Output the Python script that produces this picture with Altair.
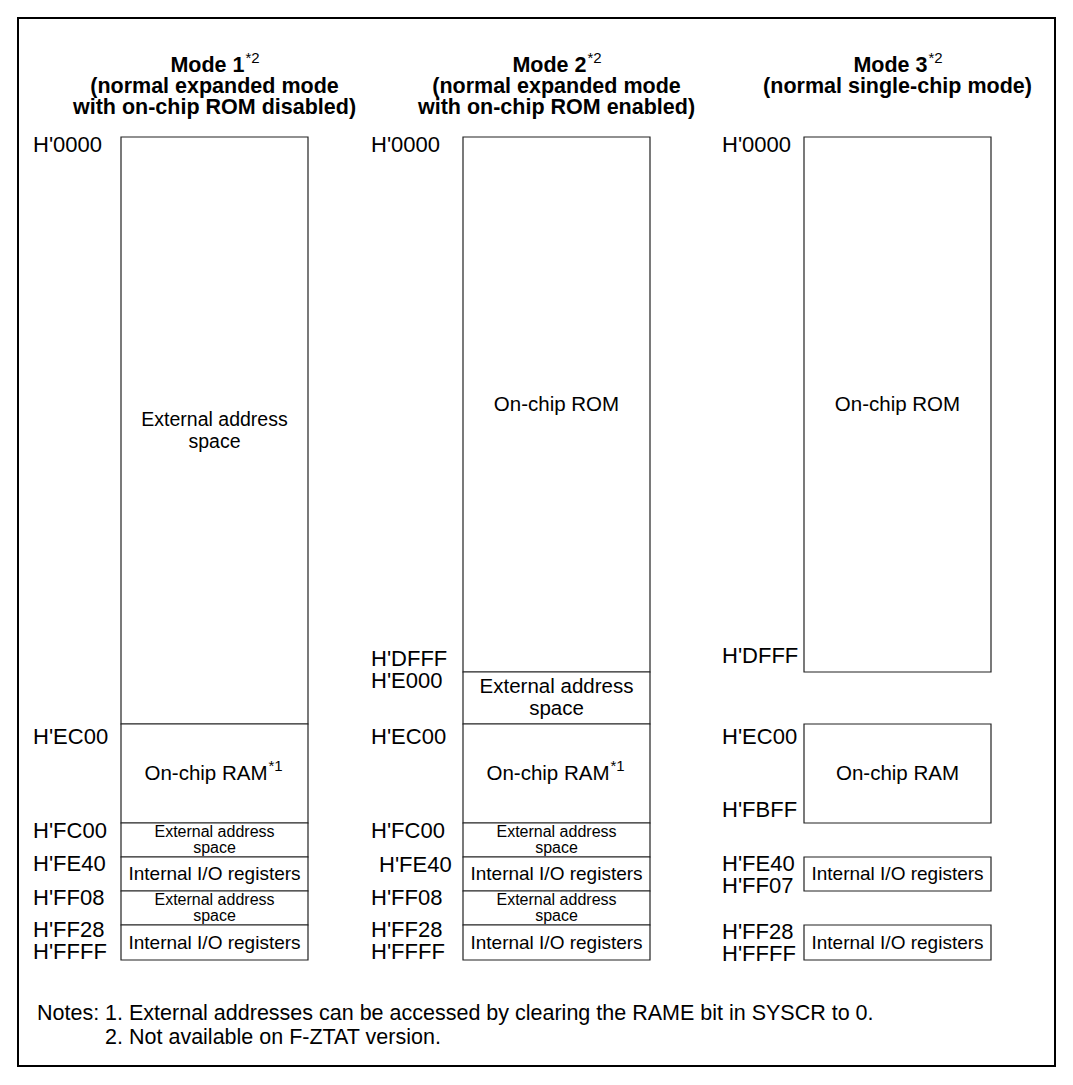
import altair as alt
import pandas as pd

# ---------------- data ----------------
modes = ["Mode 1", "Mode 2", "Mode 3"]
title_line2 = ["(normal expanded mode", "(normal expanded mode", "(normal single-chip mode)"]
title_line3 = ["with on-chip ROM disabled)", "with on-chip ROM enabled)", ""]
mode_note = ["*2", "*2", "*2"]

# memory-map boundaries and their vertical position in the drawing
bounds = ["H'0000", "H'E000", "H'EC00", "H'FC00", "H'FE40", "H'FF08", "H'FF28", "END"]
bound_y = [137, 672, 724, 823, 857, 891, 925, 960]

# regions of each memory map
seg_mode = [0, 0, 0, 0, 0, 0,
            1, 1, 1, 1, 1, 1, 1,
            2, 2, 2, 2]
seg_from = ["H'0000", "H'EC00", "H'FC00", "H'FE40", "H'FF08", "H'FF28",
            "H'0000", "H'E000", "H'EC00", "H'FC00", "H'FE40", "H'FF08", "H'FF28",
            "H'0000", "H'EC00", "H'FE40", "H'FF28"]
seg_to = ["H'EC00", "H'FC00", "H'FE40", "H'FF08", "H'FF28", "END",
          "H'E000", "H'EC00", "H'FC00", "H'FE40", "H'FF08", "H'FF28", "END",
          "H'E000", "H'FC00", "H'FF08", "END"]
seg_text = ["External address|space", "On-chip RAM", "External address|space",
            "Internal I/O registers", "External address|space", "Internal I/O registers",
            "On-chip ROM", "External address|space", "On-chip RAM", "External address|space",
            "Internal I/O registers", "External address|space", "Internal I/O registers",
            "On-chip ROM", "On-chip RAM", "Internal I/O registers", "Internal I/O registers"]
seg_style = ["mid", "big", "small", "io", "small", "io",
             "big", "big", "big", "small", "io", "small", "io",
             "big", "big", "io", "io"]
seg_note = ["", "*1", "", "", "", "",
            "", "", "*1", "", "", "", "",
            "", "", "", ""]

# address labels (text and vertical centre)
lab_mode = [0, 0, 0, 0, 0, 0, 0,
            1, 1, 1, 1, 1, 1, 1, 1, 1,
            2, 2, 2, 2, 2, 2, 2, 2]
lab_text = ["H'0000", "H'EC00", "H'FC00", "H'FE40", "H'FF08", "H'FF28", "H'FFFF",
            "H'0000", "H'DFFF", "H'E000", "H'EC00", "H'FC00", "H'FE40", "H'FF08", "H'FF28", "H'FFFF",
            "H'0000", "H'DFFF", "H'EC00", "H'FBFF", "H'FE40", "H'FF07", "H'FF28", "H'FFFF"]
lab_y = [145, 737, 831, 864, 898, 930, 952,
         145, 659, 681, 737, 831, 865, 898, 930, 952,
         145, 656, 737, 810, 864, 886, 932, 954]
lab_indent = [0, 0, 0, 0, 0, 0, 0,
              0, 0, 0, 0, 0, 8, 0, 0, 0,
              0, 0, 0, 0, 0, 0, 0, 0]

note_num = ["1.", "2."]
note_text = ["External addresses can be accessed by clearing the RAME bit in SYSCR to 0.",
             "Not available on F-ZTAT version."]

# ---------------- layout ----------------
box_left = [121, 463, 804]
box_w = 187
label_left = [33, 371, 722]
title_y = [66, 87, 108]
note_y = [1014, 1038]
note_x = [37, 105, 129]
frame = dict(x=18, x2=1055, y=18, y2=1066)

W, H = 1057, 1069
xs = alt.Scale(domain=[8, 8 + W], nice=False, zero=False)
ys = alt.Scale(domain=[8, 8 + H], nice=False, zero=False, reverse=True)
FONT = "Liberation Sans"


def X(f="x"):
    return alt.X(f"{f}:Q", scale=xs, axis=None)


def Y(f="y"):
    return alt.Y(f"{f}:Q", scale=ys, axis=None)


pos = dict(zip(bounds, bound_y))
seg = pd.DataFrame({
    "mode": seg_mode, "text": seg_text, "style": seg_style, "note": seg_note,
})
seg["x"] = [box_left[m] for m in seg_mode]
seg["x2"] = seg["x"] + box_w
seg["xc"] = seg["x"] + box_w / 2
seg["y"] = [pos[f] for f in seg_from]
seg["y2"] = [pos[t] for t in seg_to]
seg["yc"] = (seg["y"] + seg["y2"]) / 2

labs = pd.DataFrame({"text": lab_text, "y": lab_y})
labs["x"] = [label_left[m] + d for m, d in zip(lab_mode, lab_indent)]

titles = pd.DataFrame({
    "xc": [box_left[i] + box_w / 2 for i in range(3)],
    "mode": modes, "note": mode_note, "l2": title_line2, "l3": title_line3,
})

notes = pd.DataFrame({"num": note_num, "text": note_text, "y": note_y})

layers = []

# outer frame
layers.append(
    alt.Chart(pd.DataFrame([frame])).mark_rect(filled=False, stroke="black", strokeWidth=2)
    .encode(x=X(), x2="x2:Q", y=Y(), y2="y2:Q")
)

# boxes
layers.append(
    alt.Chart(seg).mark_rect(fill="white", stroke="#222", strokeWidth=1.2)
    .encode(x=X(), x2="x2:Q", y=Y(), y2="y2:Q")
)

# (font size, line height) per text style; multi-line blocks are centred with dy
styles = {"big": (20.5, 22), "mid": (19.5, 22), "io": (19, 20), "small": (16, 16.5)}
for st, (fs, lh) in styles.items():
    d = seg[(seg["style"] == st) & (seg["note"] == "")]
    one = d[~d["text"].str.contains("|", regex=False)]
    two = d[d["text"].str.contains("|", regex=False)]
    if len(one):
        layers.append(
            alt.Chart(one).mark_text(font=FONT, fontSize=fs, align="center",
                                     baseline="middle", color="black")
            .encode(x=X("xc"), y=Y("yc"), text="text:N")
        )
    if len(two):
        layers.append(
            alt.Chart(two).mark_text(font=FONT, fontSize=fs, lineHeight=lh, lineBreak="|",
                                     align="center", baseline="middle", dy=-lh / 2,
                                     color="black")
            .encode(x=X("xc"), y=Y("yc"), text="text:N")
        )

dn = seg[seg["note"] != ""]
layers.append(
    alt.Chart(dn).mark_text(font=FONT, fontSize=20.5, align="right", baseline="middle",
                            dx=53, color="black")
    .encode(x=X("xc"), y=Y("yc"), text="text:N")
)
layers.append(
    alt.Chart(dn).mark_text(font=FONT, fontSize=15, align="left", baseline="middle",
                            dx=54, dy=-8, color="black")
    .encode(x=X("xc"), y=Y("yc"), text="note:N")
)

# address labels
layers.append(
    alt.Chart(labs).mark_text(font=FONT, fontSize=22, align="left", baseline="middle",
                              color="black")
    .encode(x=X(), y=Y(), text="text:N")
)

# titles
titles["y1"] = title_y[0]
titles["y2"] = title_y[1]
titles["y3"] = title_y[2]
layers.append(
    alt.Chart(titles).mark_text(font=FONT, fontSize=21.5, fontWeight="bold", align="right",
                                baseline="middle", dx=30, color="black")
    .encode(x=X("xc"), y=Y("y1"), text="mode:N")
)
layers.append(
    alt.Chart(titles).mark_text(font=FONT, fontSize=15, align="left",
                                baseline="middle", dx=31, dy=-8, color="black")
    .encode(x=X("xc"), y=Y("y1"), text="note:N")
)
for f, yf in (("l2", "y2"), ("l3", "y3")):
    layers.append(
        alt.Chart(titles).mark_text(font=FONT, fontSize=21.5, fontWeight="bold", align="center",
                                    baseline="middle", color="black")
        .encode(x=X("xc"), y=Y(yf), text=f"{f}:N")
    )

# notes
notes["x0"] = note_x[0]
notes["x1"] = note_x[1]
notes["x2"] = note_x[2]
notes["head"] = ["Notes:", ""]
for xf, tf in (("x0", "head"), ("x1", "num"), ("x2", "text")):
    layers.append(
        alt.Chart(notes).mark_text(font=FONT, fontSize=21.5, align="left", baseline="middle",
                                   color="black")
        .encode(x=X(xf), y=Y(), text=f"{tf}:N")
    )

chart = alt.layer(*layers).properties(
    width=W, height=H, padding=0, autosize=alt.AutoSizeParams(type="none"),
    background="white",
).configure_view(stroke=None)

chart.save("out.html", embed_options={"renderer": "svg", "actions": False})
